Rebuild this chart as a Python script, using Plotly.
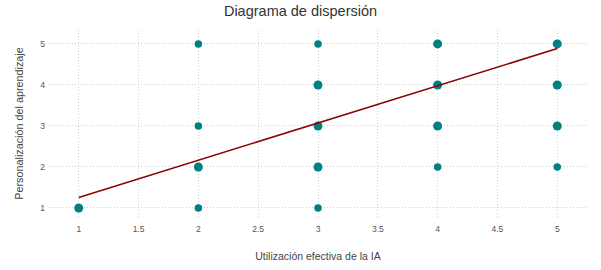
import plotly.graph_objects as go

# Data
uso_ia = [1, 2, 2, 2, 2, 3, 3, 3, 3, 3, 4, 4, 4, 4, 5, 5, 5, 5]
personalizacion = [1, 5, 3, 2, 1, 5, 4, 3, 2, 1, 5, 4, 3, 2, 5, 4, 3, 2]
frecuencia = [3, 1, 1, 2, 1, 1, 2, 2, 2, 1, 2, 2, 2, 1, 2, 2, 2, 1]
fit_intercept = 0.35
fit_slope = 0.9075
fit_x = [1, 5]

fit_y = [fit_intercept + fit_slope * v for v in fit_x]
sizes = [7.5 if n == 1 else 9 for n in frecuencia]

fig = go.Figure()
fig.add_trace(go.Scatter(
    x=uso_ia, y=personalizacion, mode="markers",
    marker=dict(color="#008080", size=sizes, opacity=1, line=dict(width=0)),
    showlegend=False, hoverinfo="x+y"))
fig.add_trace(go.Scatter(
    x=fit_x, y=fit_y, mode="lines",
    line=dict(color="#8b0000", width=1.6),
    showlegend=False))

grid = "rgba(170,195,195,0.7)"
fam = "Liberation Sans, Arial, sans-serif"
fig.update_layout(
    width=601, height=270,
    margin=dict(l=48, r=13, t=30, b=53, autoexpand=False),
    paper_bgcolor="white", plot_bgcolor="white",
    font=dict(family=fam, color="#444"),
    title=dict(text="Diagrama de dispersión", x=0.5, xanchor="center",
               y=0.958, yanchor="middle", font=dict(size=14.5, color="#333")),
    xaxis=dict(range=[0.743, 5.257], tickvals=[1, 1.5, 2, 2.5, 3, 3.5, 4, 4.5, 5],
               ticktext=["1", "1.5", "2", "2.5", "3", "3.5", "4", "4.5", "5"],
               showgrid=True, gridcolor=grid, griddash="1px,2px", gridwidth=1,
               zeroline=False, showline=False, ticks="", automargin=False,
               ticklabelstandoff=5,
               tickfont=dict(size=8.5, color="#555"),
               title=dict(text="Utilización efectiva de la IA", standoff=20,
                          font=dict(size=10.5, color="#444"))),
    yaxis=dict(range=[0.78, 5.34], tickvals=[1, 2, 3, 4, 5],
               showgrid=True, gridcolor=grid, griddash="1px,2px", gridwidth=1,
               zeroline=False, showline=False, ticks="", automargin=False,
               ticklabelstandoff=2,
               tickfont=dict(size=8.5, color="#555"),
               title=dict(text="Personalización del aprendizaje", standoff=14,
                          font=dict(size=10.8, color="#444"))),
)

fig.write_html("out.html", config={"displayModeBar": False},
               post_script="document.body.style.margin='0';document.body.style.padding='0';")
